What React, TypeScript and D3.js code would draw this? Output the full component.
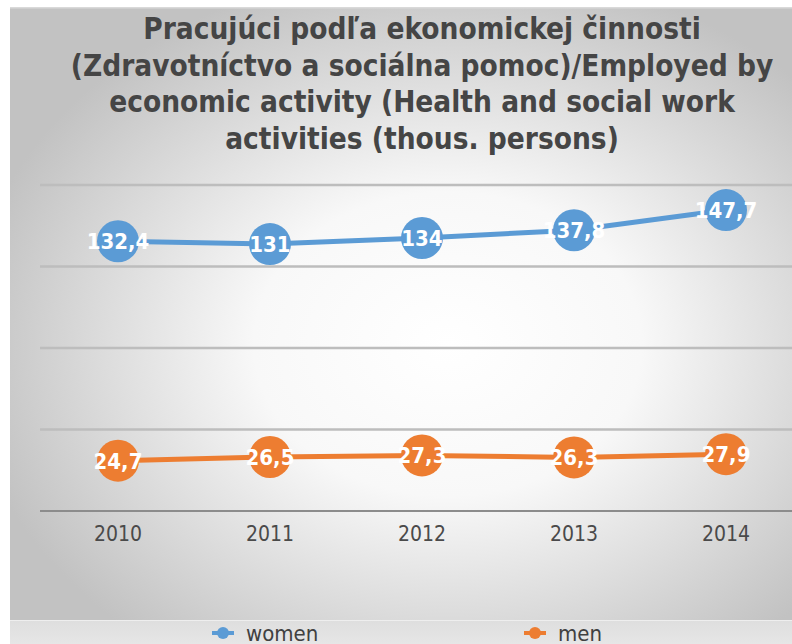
import * as d3 from "d3"

const years = ["2010", "2011", "2012", "2013", "2014"]
const women = [132.4, 131, 134, 137.8, 147.7]
const men = [24.7, 26.5, 27.3, 26.3, 27.9]
const yTicks = [0, 40, 80, 120, 160]
const titleLines = [
  "Pracujúci podľa ekonomickej činnosti",
  "(Zdravotníctvo a sociálna pomoc)/Employed by",
  "economic activity (Health and social work",
  "activities (thous. persons)",
]

const W = 792
const H = 644
const BLUE = "#5b9bd5"
const ORANGE = "#ed7d31"
const FONT = "'DejaVu Sans Condensed', 'DejaVu Sans', sans-serif"

const fmt = (v: number) => String(v).replace(".", ",")

export default function App() {
  const x = d3.scaleBand<string>().domain(years).range([42, 802])
  const y = d3.scaleLinear().domain([0, 160]).range([511, 185])
  const cx = (d: string) => (x(d) as number) + x.bandwidth() / 2

  const line = d3
    .line<number>()
    .x((_, i) => cx(years[i]))
    .y((d) => y(d))

  const series = [
    { name: "women", values: women, color: BLUE },
    { name: "men", values: men, color: ORANGE },
  ]

  return (
    <div style={{ position: "fixed", left: 0, top: 0 }}>
      <svg width={W} height={H} style={{ display: "block" }}>
        <defs>
          <radialGradient id="bg" cx="56%" cy="55%" r="62%">
            <stop offset="0%" stopColor="#ffffff" />
            <stop offset="40%" stopColor="#f8f8f8" />
            <stop offset="100%" stopColor="#c2c2c2" />
          </radialGradient>
          <linearGradient id="band" x1="0" y1="0" x2="0" y2="1">
            <stop offset="0%" stopColor="#dedede" />
            <stop offset="100%" stopColor="#e6e6e6" />
          </linearGradient>
        </defs>
        <rect x={0} y={0} width={W} height={H} fill="#ffffff" />
        <rect x={10} y={7} width={W - 10} height={613} fill="url(#bg)" />
        <rect x={10} y={7} width={W - 10} height={1.5} fill="#d9d9d9" />
        <rect x={10} y={620} width={W - 10} height={24} fill="url(#band)" />
        <rect x={10} y={620} width={W - 10} height={1} fill="#eeeeee" />

        {titleLines.map((t, i) => (
          <text
            key={i}
            x={422}
            y={39 + i * 36.5}
            textAnchor="middle"
            fontFamily={FONT}
            fontWeight="bold"
            fontSize={29.5}
            fill="#454545"
          >
            {t}
          </text>
        ))}

        {yTicks.map((t) => (
          <line
            key={t}
            x1={40}
            x2={W}
            y1={y(t)}
            y2={y(t)}
            stroke={t === 0 ? "#8c8c8c" : "#bdbdbd"}
            strokeWidth={t === 0 ? 2 : 2.5}
          />
        ))}

        {years.map((yr) => (
          <text
            key={yr}
            x={cx(yr)}
            y={541}
            textAnchor="middle"
            fontFamily={FONT}
            fontSize={21}
            fill="#4a4a4a"
          >
            {yr}
          </text>
        ))}

        {series.map((s) => (
          <g key={s.name}>
            <path d={line(s.values) as string} fill="none" stroke={s.color} strokeWidth={5} />
            {s.values.map((v, i) => (
              <circle key={i} cx={cx(years[i])} cy={y(v)} r={21} fill={s.color} />
            ))}
            {s.values.map((v, i) => (
              <text
                key={"l" + i}
                x={cx(years[i])}
                y={y(v) + 8}
                textAnchor="middle"
                fontFamily={FONT}
                fontWeight="bold"
                fontSize={22}
                fill="#ffffff"
              >
                {fmt(v)}
              </text>
            ))}
          </g>
        ))}

        {series.map((s, i) => {
          const lx = i === 0 ? 212 : 524
          return (
            <g key={"lg" + s.name}>
              <line x1={lx} x2={lx + 22} y1={633} y2={633} stroke={s.color} strokeWidth={4} />
              <circle cx={lx + 11} cy={633} r={6} fill={s.color} />
              <text x={lx + 34} y={641} fontFamily={FONT} fontSize={22} fill="#404040">
                {s.name}
              </text>
            </g>
          )
        })}
      </svg>
    </div>
  )
}
